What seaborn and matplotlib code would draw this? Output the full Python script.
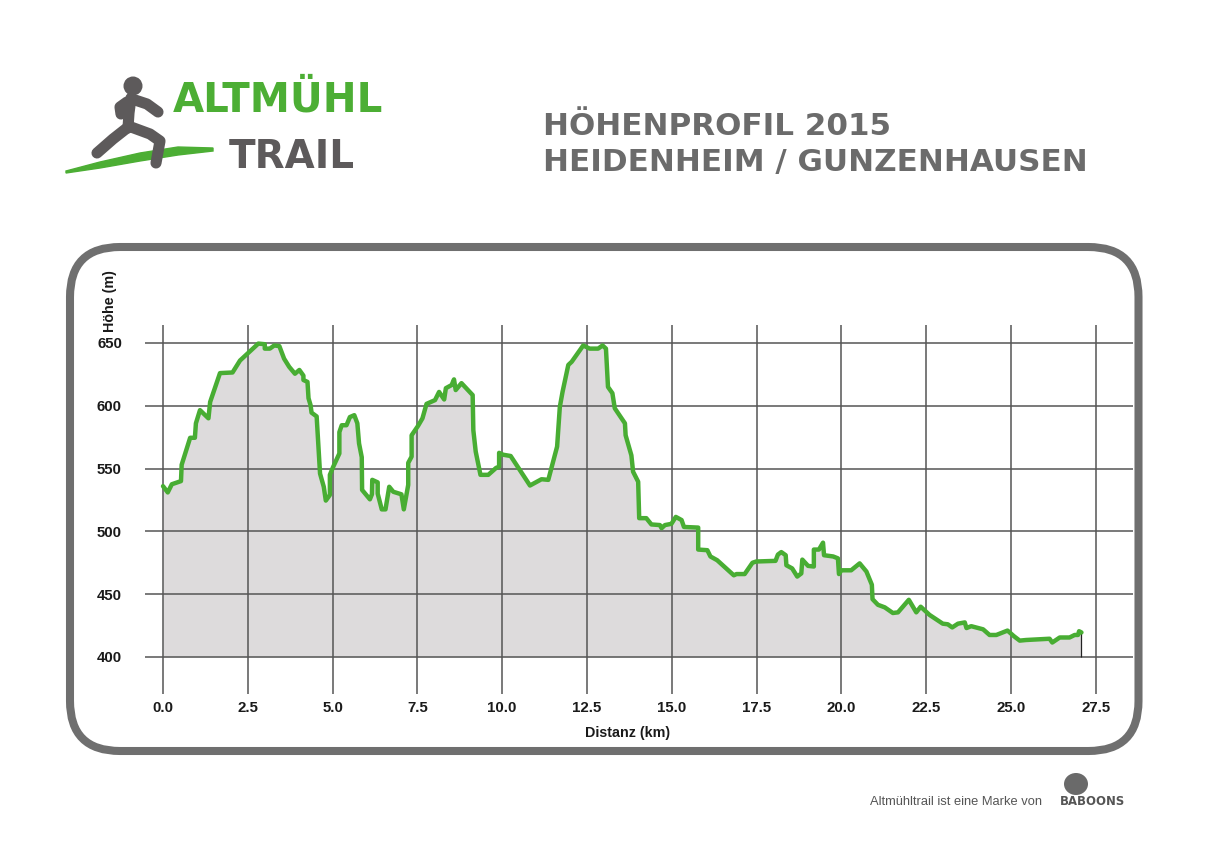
import matplotlib
matplotlib.use("Agg")
import numpy as np
import pandas as pd
import matplotlib.pyplot as plt
import seaborn as sns
from matplotlib.patches import FancyBboxPatch, Polygon, Circle, Ellipse
from matplotlib.lines import Line2D
from matplotlib.transforms import Affine2D

# ---------------- data ----------------
distance_km = [
    0.00, 0.14, 0.26, 0.53, 0.55, 0.80, 0.94, 0.97, 1.09, 1.34, 1.39, 1.68, 2.05, 2.27, 2.51,
    2.81, 3.00, 3.00, 3.15, 3.28, 3.43, 3.57, 3.72, 3.89, 4.02, 4.14, 4.14, 4.26, 4.29, 4.35,
    4.38, 4.53, 4.63, 4.74, 4.80, 4.92, 4.92, 5.02, 5.20, 5.20, 5.27, 5.41, 5.51, 5.64, 5.73,
    5.78, 5.86, 5.87, 6.10, 6.16, 6.17, 6.33, 6.33, 6.45, 6.56, 6.67, 6.79, 7.03, 7.10, 7.23,
    7.23, 7.33, 7.33, 7.52, 7.65, 7.77, 8.02, 8.14, 8.29, 8.34, 8.51, 8.58, 8.63, 8.80, 9.13,
    9.15, 9.22, 9.36, 9.59, 9.82, 9.91, 9.91, 10.03, 10.25, 10.82, 11.16, 11.36, 11.62, 11.70,
    11.78, 11.95, 12.05, 12.39, 12.58, 12.83, 12.96, 13.06, 13.12, 13.25, 13.32, 13.62, 13.64,
    13.81, 13.86, 14.01, 14.04, 14.25, 14.40, 14.65, 14.70, 14.80, 14.99, 15.12, 15.29, 15.36,
    15.78, 15.78, 16.05, 16.14, 16.34, 16.83, 16.91, 17.15, 17.38, 17.49, 18.06, 18.13, 18.23,
    18.36, 18.38, 18.55, 18.70, 18.82, 18.85, 19.02, 19.19, 19.19, 19.34, 19.46, 19.49, 19.76,
    19.90, 19.93, 20.00, 20.29, 20.54, 20.74, 20.90, 20.92, 21.08, 21.28, 21.52, 21.67, 21.99,
    22.21, 22.34, 22.60, 22.99, 23.14, 23.27, 23.44, 23.64, 23.69, 23.83, 24.18, 24.37, 24.57,
    24.90, 25.09, 25.26, 25.45, 26.14, 26.22, 26.44, 26.73, 26.88, 26.98, 27.01, 27.08,
]
elevation_m = [
    536, 531, 537.5, 540, 553, 574.5, 574.5, 586, 596.5, 590, 603, 626, 626.5, 636, 642,
    649.5, 649, 645.5, 645.5, 648, 647.5, 637.5, 631, 625.5, 628.5, 624, 620.5, 619, 606, 600.5,
    594.5, 591.5, 546, 535.5, 524.5, 529, 545, 551.5, 562, 579, 584.5, 584.5, 591, 592.5, 586,
    570, 559, 533, 525.5, 529.5, 541, 539, 530, 517.5, 517.5, 535.5, 531.5, 529.5, 517.5, 537,
    554.5, 559.5, 576.5, 584, 590, 601.5, 604.5, 611, 605, 614, 616.5, 621, 612.5, 618, 608.5,
    580.5, 563.5, 545, 545, 550.5, 551.5, 562.5, 561, 560, 536.5, 541.5, 541, 567.5, 599,
    611, 632.5, 635, 648, 645.5, 645.5, 648, 645.5, 615, 610, 598, 586, 576.5,
    560.5, 547.5, 539.5, 510.5, 510.5, 505.5, 505, 502.5, 505, 506, 511.5, 509, 503.5,
    503, 485.5, 485, 480, 477, 465, 466, 466, 475, 476, 476.5, 481.5, 483.5,
    481, 473, 470.5, 464, 466.5, 477.5, 472.5, 472, 485.5, 485.5, 491, 481, 480,
    478.5, 466, 469, 469, 474.5, 468, 457.5, 446, 441.5, 439.5, 435, 435.5, 445.5,
    435.5, 440, 433.5, 426.5, 426, 423.5, 426.5, 427.5, 423, 424.5, 422, 417.5, 417.5,
    421, 416.5, 413, 413.5, 414.5, 411.5, 415.5, 415.5, 417.5, 417.5, 420.5, 419.5,
]
x_ticks = [0.0, 2.5, 5.0, 7.5, 10.0, 12.5, 15.0, 17.5, 20.0, 22.5, 25.0, 27.5]
y_ticks = [400, 450, 500, 550, 600, 650]

title_lines = ["HÖHENPROFIL 2015", "HEIDENHEIM / GUNZENHAUSEN"]

# ---------------- style ----------------
sns.set_style("white")
plt.rcParams["font.family"] = ["Liberation Sans", "DejaVu Sans"]

GREEN = "#48ad33"
LOGO_GREEN = "#4cae34"
LOGO_GRAY = "#5d5a5b"
FRAME = "#6f6f6f"
FILL = "#dddbdc"
GRID = "#555555"

W, H = 1210, 855
fig = plt.figure(figsize=(W / 100, H / 100), dpi=100)
fig.patch.set_facecolor("white")

# transform in reference pixel coordinates (y downward)
px = Affine2D().scale(1 / 100, -1 / 100).translate(0, H / 100) + fig.dpi_scale_trans

# rounded frame
frame = FancyBboxPatch((0.70, (H - 751) / 100), 10.685, 5.04,
                       boxstyle="round,pad=0,rounding_size=0.5",
                       transform=fig.dpi_scale_trans, facecolor="none",
                       edgecolor=FRAME, linewidth=5.8, zorder=0)
fig.add_artist(frame)

# ---------------- chart ----------------
ax_left, ax_right, ax_top, ax_bottom = 145, 1133, 325, 694
ax = fig.add_axes([ax_left / W, 1 - ax_bottom / H, (ax_right - ax_left) / W, (ax_bottom - ax_top) / H])
ax.set_facecolor("none")

df = pd.DataFrame({"Distanz": distance_km, "Höhe": elevation_m})
ax.fill_between(df["Distanz"], y_ticks[0], df["Höhe"], color=FILL, lw=0, zorder=1)
sns.lineplot(data=df, x="Distanz", y="Höhe", estimator=None, sort=False,
             color=GREEN, lw=3.2, ax=ax, zorder=4)
ax.vlines(distance_km[-1], y_ticks[0], elevation_m[-1], color="#222222", lw=0.9, zorder=3)

ax.set_xlim(-0.531, 28.6)
ax.set_ylim(370.5, 664.3)
ax.set_xticks(x_ticks)
ax.set_xticklabels([f"{t:.1f}" for t in x_ticks])
ax.set_yticks(y_ticks)
ax.set_yticklabels([str(t) for t in y_ticks])
ax.grid(True, color=GRID, lw=1.1)
ax.set_axisbelow(False)
for s in ax.spines.values():
    s.set_visible(False)
ax.tick_params(axis="x", length=0, pad=5, labelsize=10.8, labelcolor="#1a1a1a")
ax.tick_params(axis="y", length=0, pad=16.6, labelsize=10.8, labelcolor="#1a1a1a")
for lab in ax.get_xticklabels() + ax.get_yticklabels():
    lab.set_fontweight("bold")

ax.set_xlabel("Distanz (km)", fontsize=10.3, fontweight="bold", color="#1a1a1a", va="center")
ax.xaxis.set_label_coords((628 - ax_left) / (ax_right - ax_left), -(733 - ax_bottom) / (ax_bottom - ax_top))
ax.set_ylabel("Höhe (m)", fontsize=10.3, fontweight="bold", color="#1a1a1a", va="center", ha="center")
ax.yaxis.set_label_coords((110 - ax_left) / (ax_right - ax_left), (ax_bottom - 301) / (ax_bottom - ax_top))

# ---------------- title ----------------
fig.text(543 / W, 1 - 135 / H, title_lines[0], family="DejaVu Sans", fontweight="bold",
         fontsize=22.3, color="#6b6b6b", va="baseline", ha="left")
fig.text(543 / W, 1 - 171 / H, title_lines[1], family="DejaVu Sans", fontweight="bold",
         fontsize=22.3, color="#6b6b6b", va="baseline", ha="left")

# ---------------- logo ----------------
fig.text(173 / W, 1 - 112 / H, "ALTMÜHL", family="DejaVu Sans", fontweight="bold",
         fontsize=29, color=LOGO_GREEN, va="baseline", ha="left")
fig.text(229 / W, 1 - 168 / H, "TRAIL", family="DejaVu Sans", fontweight="bold",
         fontsize=28, color=LOGO_GRAY, va="baseline", ha="left")

swoosh = Polygon([(66, 171), (100, 162), (140, 153), (178, 147), (213, 148),
                  (213, 151), (178, 155), (140, 161), (100, 168), (66, 173)],
                 closed=True, transform=px, facecolor=LOGO_GREEN, edgecolor=LOGO_GREEN, lw=1)
fig.add_artist(swoosh)

# runner figure
fig.add_artist(Circle((133, 86), 9.5, transform=px, facecolor=LOGO_GRAY, edgecolor="none"))
limbs = [
    [(131, 98), (129, 113), (128, 128)],               # torso
    [(127, 102), (120, 107), (121, 114)],              # back arm
    [(135, 100), (147, 104), (158, 112)],              # front arm
    [(127, 128), (113, 139), (97, 153)],               # back leg
    [(131, 127), (150, 134), (160, 141), (156, 163)],  # front leg
]
for pts in limbs:
    xs, ys = zip(*pts)
    fig.add_artist(Line2D(xs, ys, transform=px, color=LOGO_GRAY, lw=8,
                          solid_capstyle="round", solid_joinstyle="round"))

# ---------------- footer ----------------
fig.text(870 / W, 1 - 805 / H, "Altmühltrail ist eine Marke von", fontsize=9.3,
         color="#555555", va="baseline", ha="left")
fig.text(1060 / W, 1 - 805 / H, "BABOONS", family="DejaVu Sans", fontweight="bold",
         fontsize=8.4, color="#555555", va="baseline", ha="left")
fig.add_artist(Ellipse((1076, 784), 24, 22, transform=px, facecolor="#6a6a6a", edgecolor="none"))

fig.savefig("out.png", dpi=100, facecolor="white")
